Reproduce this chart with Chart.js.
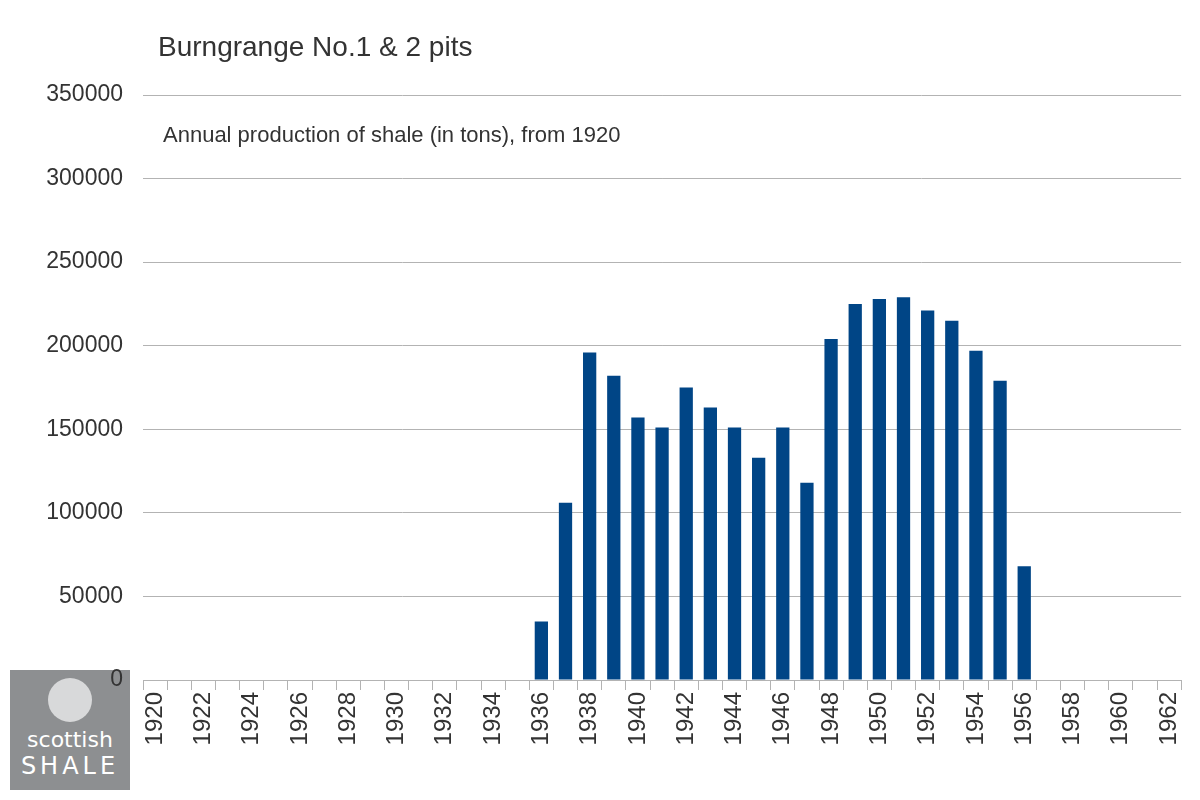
<!DOCTYPE html>
<html lang="en">
<head>
<meta charset="UTF-8">
<title>Burngrange No.1 & 2 pits</title>
<script src="https://cdn.jsdelivr.net/npm/chart.js"></script>
<style>
  body { margin: 0; background: #fff; }
  #wrap { position: relative; width: 1200px; height: 800px; }
  #chart { position: relative; z-index: 2; }
  #logo { position: absolute; z-index: 1; left: 10px; top: 670px; width: 120px; height: 120px; background: #8d8f91;
          color: #fff; font-family: "DejaVu Sans", sans-serif; text-align: center; }
  #logo .ball { width: 44px; height: 44px; border-radius: 50%; background: #d8d9da; margin: 8px auto 6px; }
  #logo .a { font-size: 22px; line-height: 24px; }
  #logo .b { font-size: 24px; letter-spacing: 4px; line-height: 28px; }
</style>
</head>
<body>
<div id="wrap">
  <canvas id="chart" width="1200" height="800"></canvas>
  <div id="logo"><div class="ball"></div><div class="a">scottish</div><div class="b">SHALE</div></div>
</div>
<script>
const years = [];
for (let y = 1920; y <= 1962; y++) years.push(String(y));
const production = [
  null, null, null, null, null, null, null, null, null, null,
  null, null, null, null, null, null,
  35000, 106000, 196000, 182000, 157000, 151000, 175000, 163000, 151000, 133000,
  151000, 118000, 204000, 225000, 228000, 229000, 221000, 215000, 197000, 179000, 68000,
  null, null, null, null, null, null
];
const yTicks = [0, 50000, 100000, 150000, 200000, 250000, 300000, 350000];

const textPlugin = {
  id: 'texts',
  afterDraw(chart) {
    const c = chart.ctx;
    c.save();
    c.fillStyle = '#333';
    c.font = '28px "Liberation Sans", Arial, sans-serif';
    c.textBaseline = 'middle';
    c.fillText('Burngrange No.1 & 2 pits', 158, 48);
    c.font = '22px "Liberation Sans", Arial, sans-serif';
    c.fillText('Annual production of shale (in tons), from 1920', 163, 136);
    c.restore();
  }
};

new Chart(document.getElementById('chart'), {
  type: 'bar',
  data: {
    labels: years,
    datasets: [{ data: production, backgroundColor: '#004586', barPercentage: 0.55, categoryPercentage: 1 }]
  },
  options: {
    responsive: false,
    animation: false,
    layout: { padding: { top: 95, right: 10, left: 2, bottom: 8 } },
    plugins: { legend: { display: false }, tooltip: { enabled: false } },
    scales: {
      x: {
        afterFit: a => { a.height = 112; },
        grid: { drawOnChartArea: false, color: '#b3b3b3', tickLength: 10 },
        border: { color: '#b3b3b3' },
        ticks: {
          autoSkip: false, maxRotation: 90, minRotation: 90, padding: 2,
          color: '#333', font: { size: 24, family: '"Liberation Sans", Arial, sans-serif' },
          callback: (v, i) => (i % 2 === 0 ? years[i] : '')
        }
      },
      y: {
        min: 0, max: 350000,
        afterFit: a => { a.width = 141; },
        afterBuildTicks: a => { a.ticks = yTicks.map(v => ({ value: v })); },
        grid: { color: '#b3b3b3', tickLength: 0 },
        border: { display: false },
        ticks: {
          padding: 20,
          color: '#333', font: { size: 23, family: '"Liberation Sans", Arial, sans-serif' },
          callback: v => String(v)
        }
      }
    }
  },
  plugins: [textPlugin]
});
</script>
</body>
</html>
